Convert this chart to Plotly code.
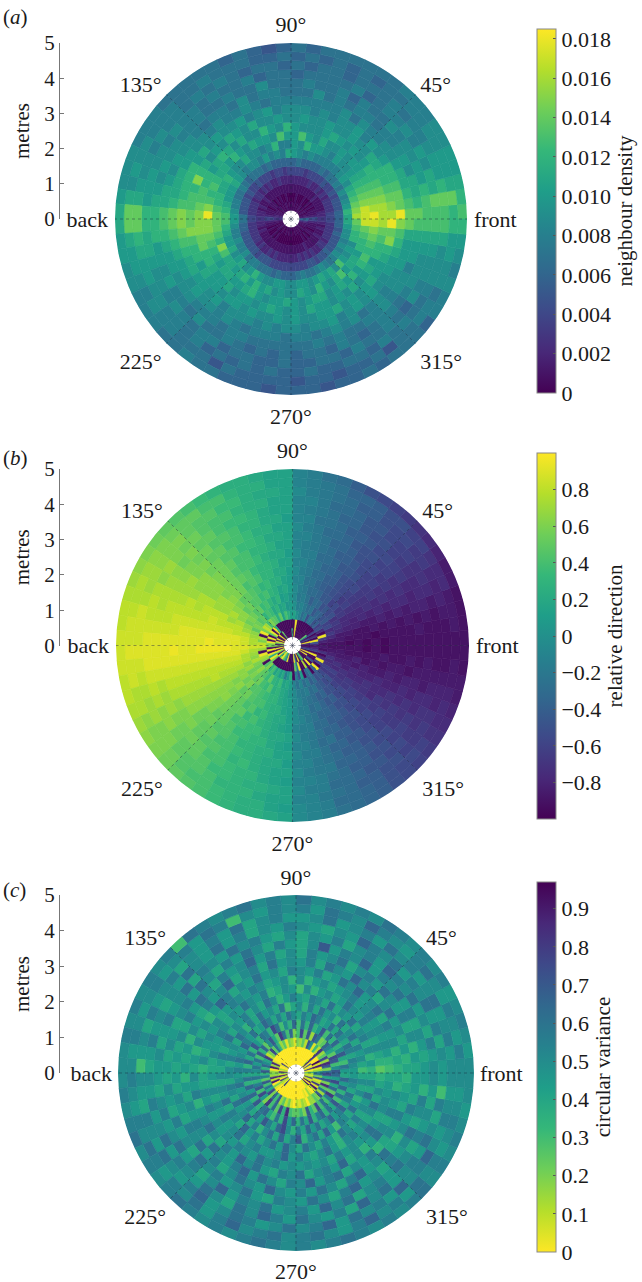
#!/usr/bin/env python3
"""Neighbour density, relative direction and circular variance around a focal animal."""

import plotly.graph_objects as go

# ring edges in metres, ring k spans RING_STEP*k to RING_STEP*(k+1); first ring is empty
RING_STEP = 0.25
SECTOR_DEG = 5

# (a) neighbour density, in units of 0.001, 72 sectors counter-clockwise from front
A_R1 = [6,2,1,1,0,1,1,0,1,0,1,1,0,1,0,1,0,1, 0,1,0,1,1,0,1,0,1,1,0,1,1,1,1,2,2,3, 3,2,1,1,0,1,0,1,1,0,0,1,0,0,1,0,1,0, 1,0,0,1,0,1,0,1,0,1,1,0,1,1,1,2,3,6]
A_R2 = [5,2,1,1,1,0,1,0,1,0,0,1,0,0,0,1,0,0, 0,0,1,0,0,1,0,1,0,1,1,1,0,1,1,1,2,4, 4,2,1,1,0,1,0,0,1,0,1,0,0,0,0,0,0,0, 0,0,0,0,0,0,1,0,1,0,1,1,0,1,1,1,2,4]
A_R3 = [3,2,2,1,1,1,1,1,2,1,1,1,1,1,1,1,1,1, 1,1,1,1,1,1,1,1,1,1,2,1,1,2,1,2,2,3, 3,2,2,1,2,1,1,1,1,1,1,1,1,1,1,1,1,1, 1,1,1,1,1,2,1,1,1,1,1,2,1,1,2,1,2,3]
A_R4 = [4,4,3,3,3,3,2,3,2,3,2,2,3,2,2,2,2,2, 2,2,2,3,2,2,3,2,3,2,3,3,2,3,3,3,3,4, 4,3,3,3,3,3,3,2,3,2,2,3,2,3,2,2,2,2, 2,2,3,2,3,2,3,2,2,3,3,2,3,3,3,3,3,4]
A_R5 = [6,6,5,5,5,4,5,4,4,5,4,4,4,4,3,4,4,4, 4,3,4,4,3,4,4,4,5,4,4,5,4,5,5,5,5,7, 7,6,6,5,5,5,5,5,5,4,5,5,5,4,4,4,4,4, 4,4,4,4,5,5,4,5,5,6,5,5,5,5,6,5,6,6]
A_R6 = [11,12,10,9,8,9,7,8,7,7,6,7,6,6,6,6,7,6, 6,6,6,6,7,6,7,7,7,6,7,8,7,7,8,8,9,10, 10,9,8,8,9,8,8,9,7,8,8,7,7,7,6,7,6,6, 6,7,8,7,7,8,9,8,7,8,9,8,9,8,9,9,10,11]
A_R7 = [16,15,14,13,12,11,9,10,9,8,8,8,8,8,9,8,9,10, 11,8,9,8,10,8,9,9,8,9,10,11,10,10,10,11,12,13, 13,12,11,10,10,11,9,10,11,9,10,12,10,9,9,10,10,9, 9,10,10,9,10,11,10,11,9,13,10,9,10,9,12,12,13,14]
A_R8 = [17,17,15,14,13,12,11,10,9,9,10,8,9,10,10,12,9,10, 8,8,12,9,8,9,9,11,9,9,10,12,11,11,12,12,13,14, 14,14,13,12,15,13,11,11,10,11,12,10,12,10,11,9,10,9, 9,11,10,9,12,10,9,11,13,10,11,11,10,12,12,13,14,17]
A_R9 = [18,16,15,14,13,12,11,10,10,9,10,9,9,11,9,10,13,10, 10,13,9,10,10,11,9,10,12,10,11,11,12,13,12,13,15,18, 15,15,14,13,12,11,10,11,11,10,10,11,12,10,9,10,10,11, 10,9,10,11,11,9,10,11,10,12,10,12,13,12,13,14,15,17]
A_R10 = [16,16,15,14,13,12,12,10,9,10,9,10,11,10,9,9,9,10, 12,9,10,12,9,9,11,9,11,12,11,10,12,12,13,13,14,15, 15,15,14,14,12,12,11,10,10,11,9,10,10,9,10,11,10,9, 10,9,11,10,10,9,10,9,11,9,10,11,10,12,12,13,14,16]
A_R11 = [16,15,14,13,12,12,11,11,9,9,10,9,9,10,9,9,10,9, 9,10,9,9,11,9,10,11,9,10,9,11,12,15,12,13,13,14, 14,15,13,12,12,10,11,10,10,9,10,10,9,10,9,9,10,9, 10,9,9,10,10,11,9,10,9,10,11,10,10,11,12,15,14,18]
A_R12 = [18,14,14,13,12,12,10,9,10,8,10,9,9,8,9,8,9,9, 9,8,10,9,8,10,9,9,10,9,11,10,12,12,12,12,13,15, 15,14,13,12,11,11,10,10,9,10,8,9,9,9,8,9,8,9, 9,8,9,9,10,8,9,10,9,10,9,9,10,10,11,12,13,15]
A_R13 = [14,13,12,11,11,10,9,9,8,8,9,7,9,8,8,8,8,8, 8,8,7,8,9,8,8,9,8,9,9,10,10,11,11,11,12,14, 14,13,12,11,10,10,9,10,9,9,8,9,8,7,8,8,8,7, 8,8,7,8,9,8,9,7,8,9,8,9,9,10,10,10,11,14]
A_R14 = [14,12,11,11,9,10,9,8,8,7,8,8,7,8,7,9,7,7, 7,8,8,7,9,7,8,8,7,8,9,9,10,9,10,11,11,13, 13,12,11,10,10,9,9,9,8,8,8,7,8,8,7,7,7,7, 7,7,8,7,8,7,7,8,8,9,8,9,9,8,10,10,11,13]
A_R15 = [13,13,12,10,10,9,9,8,9,7,7,8,6,8,7,7,8,7, 7,7,9,7,7,8,7,7,8,8,8,9,9,10,9,10,11,12, 12,12,10,10,9,10,8,8,7,9,7,7,8,7,6,7,6,7, 6,7,7,6,8,7,6,7,8,8,7,8,9,9,9,10,11,13]
A_R16 = [13,14,11,11,9,10,8,9,8,8,7,6,8,7,7,7,7,6, 7,7,6,8,7,7,8,7,8,8,9,8,9,9,10,10,10,12, 12,11,11,10,9,9,8,9,8,7,8,8,6,7,7,6,6,7, 6,6,7,7,6,8,7,7,8,7,6,9,8,9,9,10,11,13]
A_R17 = [13,14,12,10,10,9,8,8,7,8,7,7,7,6,7,7,6,7, 6,7,7,6,7,8,7,8,7,8,8,9,8,9,9,10,11,14, 14,12,11,10,10,9,9,8,8,7,8,6,7,6,7,6,7,6, 6,7,6,6,7,7,6,8,7,8,7,7,8,9,9,9,11,13]
A_R18 = [12,14,11,10,10,9,9,8,8,7,7,6,7,6,7,6,7,6, 7,6,6,7,7,7,8,7,7,8,8,8,9,9,10,9,11,14, 14,11,10,10,9,8,9,8,8,7,7,7,5,7,6,6,6,6, 5,6,6,5,6,6,7,5,7,7,8,8,7,9,9,10,10,12]
A_R19 = [13,12,11,10,10,9,9,8,8,8,7,7,7,7,7,7,6,7, 6,5,6,7,6,7,7,7,7,7,8,8,8,9,9,9,10,11, 11,10,10,9,9,8,8,8,7,7,8,7,7,6,6,6,5,6, 6,6,5,6,6,7,6,7,7,7,6,8,8,9,8,9,10,12]
A_RINGS = [A_R1,A_R2,A_R3,A_R4,A_R5,A_R6,A_R7,A_R8,A_R9,A_R10,A_R11,A_R12,A_R13,A_R14,A_R15,A_R16,A_R17,A_R18,A_R19]

# (b) relative direction, in units of 0.05
B_R1 = [-19,-15,19,-19,-10,-19,-5,10,-19,-18,-19,-19,-19,-19,-19,-19,19,-19, 5,-19,-19,-19,-19,-19,-19,10,-19,-19,19,-19,-19,19,-19,19,10,-19, 12,-19,19,-19,19,10,-19,19,5,15,19,10,5,-5,19,-19,-19,-19, -19,19,-5,-19,19,-19,5,10,-19,-19,-19,19,-19,19,-19,-10,-15,-19]
B_R2 = [-15,-10,19,-19,-14,-19,-12,-19,-19,-19,-19,-19,-19,-19,-19,-19,19,-19, -19,-19,-19,-19,-19,-19,-19,-19,5,19,-19,19,10,-19,19,-19,19,12, 12,-19,19,-19,19,5,19,12,-19,-19,-19,-19,-19,-19,-19,-19,-19,-19, -19,10,-5,19,-19,-19,15,-19,19,-19,-10,-19,-19,19,-19,-12,-15,-17]
B_R3 = [-18,-16,-13,19,-19,-15,-10,-12,-8,-10,-6,-5,-10,-3,-6,-2,0,3, 2,5,8,3,10,5,9,10,12,8,14,16,12,19,-19,15,12,16, 17,14,-19,19,15,13,-19,9,12,6,8,3,5,2,4,-3,1,5, -19,-3,-10,2,-19,-7,-4,-19,-8,19,-19,-12,19,-15,-19,-14,-18,-17]
B_R4 = [-18,-17,-15,-13,-15,-11,-12,-9,-10,-8,-7,-9,-5,-6,-4,-2,-3,0, 2,1,4,3,6,4,7,8,6,10,9,11,12,10,13,14,15,15, 17,15,14,13,15,12,11,13,10,9,7,10,6,5,7,3,4,2, -2,-5,-2,-6,-4,-8,-6,-10,-9,-11,-13,-12,-14,-15,-14,-16,-17,-18]
B_R5 = [-18,-17,-17,-15,-14,-13,-14,-10,-11,-9,-10,-7,-6,-8,-5,-3,-4,-1, 1,3,2,6,4,6,8,7,10,9,11,12,11,13,14,16,17,17, 18,17,15,15,13,14,11,12,10,11,8,7,9,5,6,4,3,1, -1,-3,-4,-3,-6,-5,-8,-9,-11,-10,-13,-12,-15,-14,-16,-17,-17,-18]
B_R6 = [-19,-18,-17,-16,-15,-15,-13,-13,-11,-12,-9,-9,-7,-6,-6,-4,-3,-1, 2,4,3,5,6,8,7,9,9,11,10,13,13,15,16,16,18,18, 18,18,17,16,15,13,13,11,12,9,9,8,7,6,6,4,3,2, -1,-2,-4,-5,-6,-8,-7,-10,-10,-12,-13,-14,-14,-16,-16,-17,-18,-18]
B_R7 = [-18,-18,-18,-16,-16,-15,-14,-12,-13,-11,-10,-9,-8,-7,-5,-5,-2,-2, 2,3,5,5,7,6,8,9,10,10,12,13,15,14,16,17,18,18, 19,18,17,16,15,14,12,13,10,11,9,8,8,6,5,5,3,2, -1,-3,-3,-6,-5,-7,-9,-8,-11,-11,-13,-13,-15,-15,-17,-16,-18,-18]
B_R8 = [-19,-18,-18,-17,-15,-15,-14,-13,-12,-11,-10,-8,-8,-6,-6,-4,-3,-1, 2,4,4,6,6,8,9,8,11,12,13,14,14,16,16,17,18,18, 19,18,17,16,15,14,13,12,11,10,8,9,6,7,5,4,4,2, -1,-2,-4,-5,-7,-7,-8,-10,-10,-12,-12,-14,-15,-16,-16,-18,-18,-19]
B_R9 = [-18,-19,-17,-17,-16,-14,-14,-13,-11,-11,-10,-8,-7,-7,-5,-4,-2,-2, 3,3,5,6,6,7,9,10,11,12,12,14,14,16,17,17,18,19, 19,18,17,16,16,14,13,13,11,10,10,7,8,6,5,4,3,2, -2,-3,-3,-6,-6,-8,-8,-9,-11,-11,-13,-14,-14,-16,-17,-17,-18,-18]
B_R10 = [-19,-18,-18,-16,-15,-15,-13,-13,-12,-10,-9,-9,-7,-6,-6,-3,-3,-1, 2,4,4,5,7,8,8,9,11,12,13,13,15,16,16,17,18,18, 19,18,17,16,15,14,13,12,11,10,8,8,7,7,5,4,4,3, -1,-3,-4,-5,-7,-7,-9,-10,-10,-12,-12,-15,-15,-15,-17,-18,-17,-19]
B_R11 = [-18,-18,-17,-17,-16,-14,-14,-12,-12,-11,-9,-8,-8,-6,-5,-4,-3,-2, 3,3,5,6,6,8,8,10,11,12,13,13,15,15,16,17,18,18, 18,18,17,16,15,14,13,12,10,10,9,7,7,6,6,4,3,2, -2,-2,-4,-6,-5,-8,-8,-10,-11,-11,-13,-13,-15,-16,-16,-17,-18,-18]
B_R12 = [-18,-18,-18,-16,-15,-15,-13,-13,-11,-11,-10,-8,-7,-7,-5,-4,-2,-2, 3,4,4,6,7,7,9,9,11,11,13,13,14,16,16,17,18,18, 18,18,17,16,15,14,13,11,11,9,9,8,6,6,5,5,3,3, -1,-3,-3,-5,-7,-7,-9,-9,-11,-12,-12,-14,-14,-16,-17,-17,-18,-18]
B_R13 = [-18,-18,-17,-17,-15,-14,-14,-12,-12,-10,-10,-9,-7,-6,-6,-4,-3,-1, 3,3,5,5,7,8,8,10,10,12,12,14,14,15,16,17,17,18, 19,18,17,16,15,14,13,11,10,10,8,8,7,6,5,4,4,2, -2,-2,-4,-5,-6,-8,-8,-10,-10,-12,-13,-13,-15,-15,-16,-18,-17,-18]
B_R14 = [-18,-17,-18,-16,-16,-15,-13,-12,-11,-11,-9,-8,-8,-6,-5,-5,-2,-2, 2,4,4,6,6,8,9,9,11,11,12,13,14,15,16,16,17,18, 18,18,17,16,15,13,12,12,10,9,9,8,6,7,5,4,3,3, -1,-3,-4,-4,-7,-7,-8,-9,-11,-11,-13,-14,-14,-16,-16,-17,-18,-18]
B_R15 = [-18,-18,-17,-16,-15,-15,-14,-13,-12,-10,-10,-9,-7,-7,-5,-4,-3,-2, 3,3,4,6,7,7,8,10,10,12,11,13,14,15,15,16,17,18, 18,18,17,15,14,14,12,11,11,10,8,8,7,6,6,4,3,2, -2,-2,-3,-5,-6,-8,-8,-10,-10,-12,-12,-13,-15,-15,-17,-17,-17,-18]
B_R16 = [-18,-18,-18,-17,-15,-14,-14,-12,-12,-11,-9,-9,-7,-6,-6,-4,-2,-2, 3,3,5,5,6,8,8,9,11,11,12,14,13,15,16,16,17,18, 18,18,17,16,15,13,13,11,10,10,9,7,7,6,5,5,4,3, -1,-3,-3,-6,-6,-7,-9,-9,-11,-11,-13,-14,-14,-15,-16,-17,-18,-18]
B_R17 = [-18,-18,-17,-16,-16,-15,-13,-13,-11,-11,-10,-8,-8,-6,-5,-4,-3,-1, 3,4,4,5,7,7,9,9,10,12,12,13,14,14,15,17,17,17, 18,17,16,15,14,14,12,12,10,9,9,8,6,6,6,4,3,3, -2,-2,-4,-5,-6,-8,-8,-10,-10,-12,-13,-13,-14,-16,-16,-17,-18,-18]
B_R18 = [-18,-17,-17,-17,-15,-15,-14,-12,-12,-10,-10,-8,-7,-7,-5,-4,-3,-2, 3,3,5,5,6,8,8,10,10,11,12,13,14,15,15,16,17,17, 18,17,17,15,15,13,12,12,11,9,8,8,7,6,5,5,3,2, -1,-2,-3,-6,-6,-7,-8,-10,-11,-11,-12,-14,-15,-15,-16,-17,-17,-18]
B_R19 = [-18,-18,-18,-18,-17,-17,-16,-15,-14,-13,-12,-11,-10,-8,-6,-5,-3,-2, 3,3,4,5,5,6,7,8,9,10,11,12,13,14,15,16,16,17, 17,17,16,16,15,14,13,12,11,10,9,8,7,6,5,5,4,3, -1,-2,-3,-5,-6,-7,-8,-10,-11,-12,-13,-14,-15,-16,-17,-17,-18,-18]
B_RINGS = [B_R1,B_R2,B_R3,B_R4,B_R5,B_R6,B_R7,B_R8,B_R9,B_R10,B_R11,B_R12,B_R13,B_R14,B_R15,B_R16,B_R17,B_R18,B_R19]

# (c) circular variance, in units of 0.05
C_R1 = [9,2,0,16,1,0,14,0,17,2,0,0,0,0,0,0,0,0, 0,0,0,0,0,0,0,0,0,0,0,16,1,0,0,3,1,17, 4,1,18,3,0,16,3,2,1,15,0,0,0,0,0,0,0,0, 0,0,0,0,0,0,0,1,2,18,0,19,2,1,16,3,1,3]
C_R2 = [10,3,1,18,1,19,0,0,16,0,0,0,0,0,0,0,0,0, 0,0,0,0,0,0,0,0,0,0,0,0,1,17,3,18,0,3, 4,3,17,2,18,0,4,1,0,0,0,0,0,0,0,0,0,0, 0,0,0,0,1,0,3,1,0,2,18,1,16,2,1,14,4,12]
C_R3 = [12,4,14,17,3,15,5,3,16,2,6,1,10,14,2,5,3,4, 1,3,4,1,5,3,7,12,5,15,4,2,16,8,10,13,7,14, 7,11,5,14,6,12,8,15,4,13,6,14,3,5,2,4,1,0, 2,1,3,2,0,3,3,5,4,14,3,12,5,17,4,14,8,15]
C_R4 = [14,10,6,14,15,5,8,11,13,5,4,12,14,3,14,5,15,6, 4,13,6,12,16,5,8,14,10,5,13,7,14,6,12,9,12,10, 8,12,7,11,14,6,15,9,4,16,6,13,5,15,7,17,6,5, 5,6,4,14,7,5,15,6,12,6,11,16,5,13,8,15,9,13]
C_R5 = [9,12,6,8,14,10,7,13,7,12,6,14,9,7,13,7,12,6, 13,7,10,6,12,15,7,11,12,7,9,14,7,12,8,13,7,11, 8,12,7,13,9,13,7,14,7,12,13,8,6,12,7,15,9,13, 7,12,8,14,7,11,13,7,12,8,14,6,12,7,13,9,13,8]
C_R6 = [9,10,11,8,11,12,8,10,12,8,12,9,8,11,13,9,11,8, 10,12,8,11,8,11,13,9,8,12,9,11,13,9,10,12,9,11, 9,10,12,9,10,13,9,11,8,12,9,14,11,8,13,15,10,7, 11,8,13,9,12,8,10,13,9,11,13,8,11,12,8,10,11,9]
C_R7 = [6,8,10,9,11,8,12,10,8,12,7,10,9,12,8,11,7,10, 8,6,12,8,10,9,12,8,11,7,10,12,8,10,9,11,8,10, 10,8,11,10,8,12,9,10,13,8,11,7,10,12,8,13,8,11, 14,7,10,12,8,13,9,6,11,10,8,12,9,7,10,8,10,8]
C_R8 = [7,9,7,10,8,11,10,8,12,9,10,8,12,8,10,11,8,9, 11,9,7,10,12,8,10,8,11,9,10,8,12,10,8,11,9,8, 10,8,10,9,12,8,11,10,8,13,9,11,8,10,12,9,13,10, 8,12,10,8,11,9,7,12,10,8,11,8,10,9,12,8,10,8]
C_R9 = [5,7,8,10,8,10,9,11,9,10,12,9,8,10,9,7,10,6, 9,10,8,7,11,9,10,12,9,10,8,10,11,9,9,10,8,8, 9,8,10,8,10,9,11,9,10,12,8,10,11,9,9,10,13,9, 11,9,8,10,12,9,7,10,11,9,10,8,10,12,8,10,8,7]
C_R10 = [6,7,9,10,9,10,9,11,10,9,11,10,9,8,10,9,7,10, 7,10,9,8,10,11,9,10,11,9,8,10,9,10,9,8,10,7, 8,8,10,9,11,9,10,9,10,9,11,10,9,12,10,11,9,10, 9,10,9,10,8,11,9,10,9,10,12,9,8,10,10,9,9,8]
C_R11 = [7,8,7,10,9,11,8,12,10,9,13,10,12,9,8,11,9,10, 11,8,10,9,12,9,10,8,11,13,9,7,10,8,10,7,9,8, 10,9,11,7,9,10,12,10,8,11,9,13,10,12,9,8,11,10, 12,8,10,11,9,13,8,10,7,9,12,10,8,11,9,10,7,8]
C_R12 = [8,7,9,8,10,9,12,10,8,11,10,13,9,10,12,8,11,9, 10,9,12,8,11,10,8,13,10,9,11,8,9,10,7,9,8,9, 7,9,8,10,9,11,10,8,12,10,9,11,13,9,12,10,8,11, 10,13,9,11,12,8,10,9,11,7,8,10,9,11,8,9,8,7]
C_R13 = [8,9,7,10,8,11,9,10,12,9,11,10,8,12,10,9,11,8, 10,8,11,9,13,10,9,11,8,10,12,9,11,8,10,8,9,8, 9,8,10,9,8,11,10,12,9,11,8,10,12,10,9,13,10,9, 11,9,12,10,8,11,13,9,10,12,8,7,10,9,11,8,9,9]
C_R14 = [9,8,9,10,8,11,9,12,10,11,9,13,10,11,9,14,10,8, 9,11,8,10,12,9,11,8,10,12,9,11,10,8,9,10,8,9, 8,10,9,8,11,9,10,8,12,10,11,9,10,12,9,8,11,10, 9,12,10,8,11,13,9,10,8,11,9,10,12,8,10,11,7,9]
C_R15 = [10,9,11,8,10,9,12,10,11,13,9,11,10,8,11,9,10,8, 10,8,9,11,10,12,9,10,11,8,12,10,9,11,9,8,10,9, 9,8,10,11,9,10,12,9,11,8,10,13,9,11,10,12,9,10, 11,9,13,10,12,8,10,11,9,12,10,8,11,9,10,8,9,10]
C_R16 = [9,10,8,11,9,12,10,11,9,12,10,11,13,9,10,8,9,10, 11,9,10,8,11,9,12,9,10,12,9,10,8,10,9,11,9,8, 10,9,11,9,10,12,9,11,10,9,12,10,8,12,10,13,11,9, 12,10,9,11,8,13,10,12,9,10,11,9,12,10,8,11,6,9]
C_R17 = [10,9,11,10,9,12,10,9,11,10,12,9,11,10,9,12,10,9, 9,11,10,8,12,9,11,9,10,8,11,10,9,11,8,10,9,6, 10,9,8,11,10,9,12,10,9,11,13,9,10,12,11,9,10,12, 10,11,13,9,12,10,11,9,13,10,11,13,10,9,11,10,9,10]
C_R18 = [10,11,9,10,11,9,10,12,11,9,10,11,13,10,11,12,9,11, 10,11,9,10,6,11,12,9,11,10,9,11,10,9,10,11,9,10, 11,10,9,11,10,12,11,9,11,10,12,9,11,13,10,11,12,10, 11,12,10,9,11,13,10,11,9,12,10,11,9,10,11,10,9,10]
C_R19 = [10,9,10,11,10,9,11,10,11,10,11,12,10,11,10,11,10,12, 10,11,10,12,11,10,11,12,6,11,10,11,10,11,10,11,10,10, 10,11,10,11,12,10,11,10,11,12,11,10,11,10,11,12,11,10, 11,10,11,12,11,10,11,10,11,12,10,11,10,11,10,9,10,10]
C_RINGS = [C_R1,C_R2,C_R3,C_R4,C_R5,C_R6,C_R7,C_R8,C_R9,C_R10,C_R11,C_R12,C_R13,C_R14,C_R15,C_R16,C_R17,C_R18,C_R19]

ANGLE_TICKS = [0, 45, 90, 135, 180, 225, 270, 315]
ANGLE_LABELS = ["front", "45°", "90°", "135°", "back", "225°", "270°", "315°"]
METRE_TICKS = [0, 1, 2, 3, 4, 5]

A_CB_TICKS = [0, 0.002, 0.004, 0.006, 0.008, 0.010, 0.012, 0.014, 0.016, 0.018]
A_CB_LABELS = ["0", "0.002", "0.004", "0.006", "0.008", "0.010", "0.012", "0.014", "0.016", "0.018"]
B_CB_TICKS = [-0.8, -0.6, -0.4, -0.2, 0, 0.2, 0.4, 0.6, 0.8]
B_CB_LABELS = ["\u22120.8", "\u22120.6", "\u22120.4", "\u22120.2", "0", "0.2", "0.4", "0.6", "0.8"]
C_CB_TICKS = [0, 0.1, 0.2, 0.3, 0.4, 0.5, 0.6, 0.7, 0.8, 0.9]
C_CB_LABELS = ["0", "0.1", "0.2", "0.3", "0.4", "0.5", "0.6", "0.7", "0.8", "0.9"]

W, H = 642, 1282
SERIF = "Liberation Serif"

PANELS = [
    dict(letter="a", rings=A_RINGS, unit=0.001, cmin=0, cmax=0.0185, reverse=False,
         cx=291, cy=219, radius=176, label_y=17, label_push=2,
         cb_top=29, cb_bot=393, cb_ticks=A_CB_TICKS, cb_labels=A_CB_LABELS, cb_title="neighbour density"),
    dict(letter="b", rings=B_RINGS, unit=0.05, cmin=-1, cmax=1, reverse=False,
         cx=292.5, cy=645.5, radius=176.5, label_y=458, label_push=2,
         cb_top=453, cb_bot=819, cb_ticks=B_CB_TICKS, cb_labels=B_CB_LABELS, cb_title="relative direction"),
    # the 270° label has to stay on the page here, so less room round the disc
    dict(letter="c", rings=C_RINGS, unit=0.05, cmin=0, cmax=0.97, reverse=True,
         cx=296, cy=1073, radius=178, label_y=890, label_push=1,
         cb_top=882, cb_bot=1252, cb_ticks=C_CB_TICKS, cb_labels=C_CB_LABELS, cb_title="circular variance"),
]


def cells(rings, unit):
    r, base, theta, color = [], [], [], []
    for k, ring in enumerate(rings, start=1):
        for i, v in enumerate(ring):
            r.append(RING_STEP)
            base.append(k * RING_STEP)
            theta.append(SECTOR_DEG * (i + 0.5))
            color.append(v * unit)
    return r, base, theta, color


fig = go.Figure()
layout = dict(
    width=W, height=H, autosize=False,
    margin=dict(l=0, r=0, t=0, b=0, autoexpand=False),
    paper_bgcolor="white", plot_bgcolor="white",
    showlegend=False, font=dict(family=SERIF, size=22, color="#1a1a1a"),
    annotations=[],
)

for n, p in enumerate(PANELS, start=1):
    suffix = "" if n == 1 else str(n)
    polar = f"polar{suffix}"
    r, base, theta, color = cells(p["rings"], p["unit"])

    fig.add_trace(go.Barpolar(
        r=r, base=base, theta=theta, width=SECTOR_DEG, subplot=polar,
        marker=dict(
            color=color, colorscale="Viridis", reversescale=p["reverse"],
            cmin=p["cmin"], cmax=p["cmax"],
            line=dict(width=0.6, color=color, colorscale="Viridis", reversescale=p["reverse"],
                      cmin=p["cmin"], cmax=p["cmax"]),
            colorbar=dict(
                x=537 / W, xanchor="left", y=1 - p["cb_bot"] / H, yanchor="bottom",
                len=p["cb_bot"] - p["cb_top"], lenmode="pixels", thickness=19, thicknessmode="pixels",
                xpad=0, ypad=0, outlinecolor="#888", outlinewidth=1,
                tickmode="array", tickvals=p["cb_ticks"], ticktext=p["cb_labels"],
                ticks="inside", ticklen=3, tickcolor="#555",
                tickfont=dict(family=SERIF, size=22, color="#1a1a1a"),
                title=dict(text=p["cb_title"], side="right", font=dict(family=SERIF, size=21, color="#1a1a1a")),
            ),
        ),
        hoverinfo="skip",
    ))

    # dotted spokes at the labelled angles
    spoke_r, spoke_t = [], []
    for a in ANGLE_TICKS:
        spoke_r += [0, 5, None]
        spoke_t += [a, a, None]
    fig.add_trace(go.Scatterpolar(
        r=spoke_r, theta=spoke_t, subplot=polar, mode="lines",
        line=dict(color="rgba(30,40,60,0.55)", width=0.8, dash="dot"), hoverinfo="skip",
    ))

    layout[polar] = dict(
        domain=dict(x=[(p["cx"] - p["radius"]) / W, (p["cx"] + p["radius"]) / W],
                    y=[1 - (p["cy"] + p["radius"]) / H, 1 - (p["cy"] - p["radius"]) / H]),
        bgcolor="white",
        bargap=0,
        radialaxis=dict(visible=False, range=[0, 5]),
        angularaxis=dict(
            direction="counterclockwise", rotation=0, tickmode="array",
            tickvals=ANGLE_TICKS, ticktext=ANGLE_LABELS, showline=False, showgrid=False,
            # invisible ticks only to push the labels off the disc
            ticks="outside", ticklen=p["label_push"], tickcolor="rgba(0,0,0,0)",
            tickfont=dict(family=SERIF, size=22, color="#1a1a1a"),
        ),
    )

    # separate metres scale left of each disc
    fig.add_trace(go.Scatter(
        x=[0] * len(METRE_TICKS), y=METRE_TICKS, xaxis=f"x{suffix}", yaxis=f"y{suffix}",
        mode="markers", marker=dict(opacity=0, size=1), hoverinfo="skip",
    ))
    layout[f"xaxis{suffix}"] = dict(visible=False, domain=[60 / W, 61 / W], range=[0, 1], fixedrange=True)
    layout[f"yaxis{suffix}"] = dict(
        domain=[1 - p["cy"] / H, 1 - (p["cy"] - p["radius"]) / H], range=[0, 5],
        anchor=f"x{suffix}", side="left", tickmode="array", tickvals=METRE_TICKS,
        showline=True, linecolor="#777", linewidth=1, ticks="inside", ticklen=4, tickcolor="#777",
        showgrid=False, zeroline=False, fixedrange=True,
        tickfont=dict(family=SERIF, size=21, color="#1a1a1a"),
        title=dict(text="metres", font=dict(family=SERIF, size=21, color="#1a1a1a"), standoff=8),
    )

    layout["annotations"].append(dict(
        text=f"(<i>{p['letter']}</i>)", xref="paper", yref="paper", showarrow=False,
        x=1 / W, y=1 - p["label_y"] / H, xanchor="left", yanchor="middle",
        font=dict(family=SERIF, size=21, color="#1a1a1a"),
    ))

fig.update_layout(**layout)
fig.write_html("out.html", config=dict(displayModeBar=False), post_script="document.body.style.margin='0';")
